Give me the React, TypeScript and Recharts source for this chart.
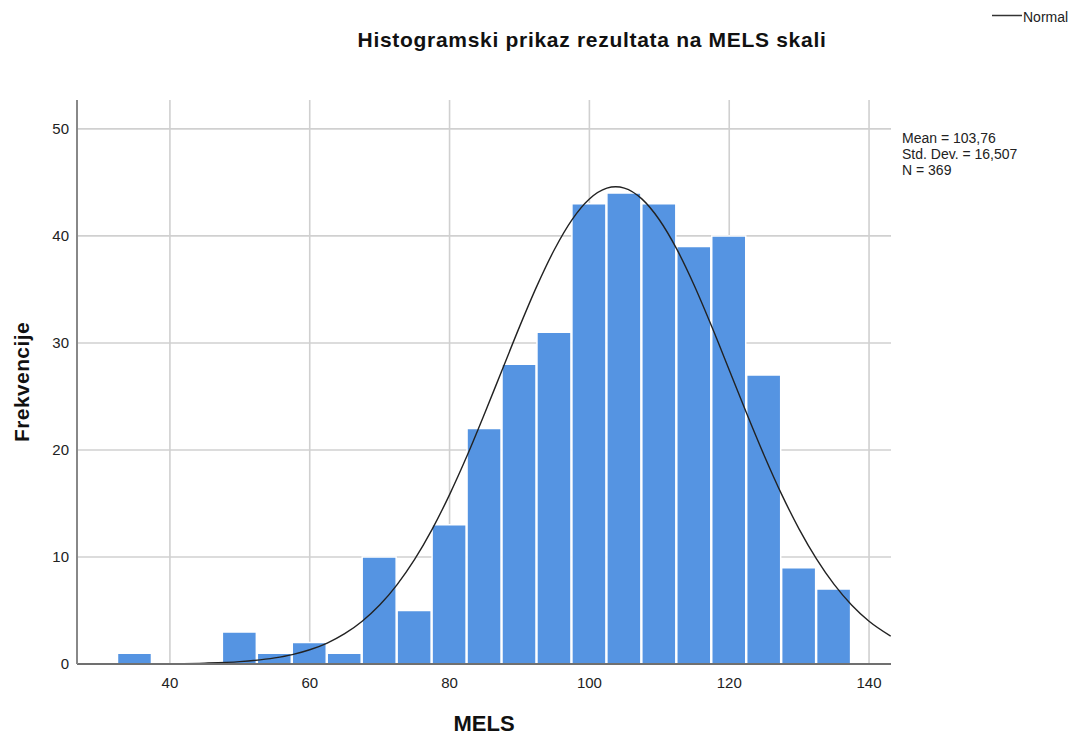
import React from 'react';
import { ComposedChart, Bar, Line, XAxis, YAxis, CartesianGrid } from 'recharts';

// Histogram bins (bin centre on MELS scale) and frequencies
const binCenters = [35, 50, 55, 60, 65, 70, 75, 80, 85, 90, 95, 100, 105, 110, 115, 120, 125, 130, 135];
const binCounts = [1, 3, 1, 2, 1, 10, 5, 13, 22, 28, 31, 43, 44, 43, 39, 40, 27, 9, 7];

// Normal curve
const curveX = [27, 30, 35, 40, 45, 50, 55, 57.5, 60, 62.5, 65, 67.5, 70, 72.5, 75, 77.5, 80, 82.5, 85, 87.5, 90, 92.5, 95, 97.5, 100, 102.5, 103.76, 105, 107.5, 110, 112.5, 115, 117.5, 120, 122.5, 125, 127.5, 130, 132.5, 135, 137.5, 140, 143.1];
const curveY = [0.001, 0.002, 0.008, 0.026, 0.079, 0.22, 0.57, 0.88, 1.33, 1.96, 2.83, 4.0, 5.51, 7.42, 9.77, 12.58, 15.83, 19.45, 23.38, 27.45, 31.5, 35.33, 38.73, 41.5, 43.45, 44.46, 44.59, 44.47, 43.46, 41.51, 38.76, 35.37, 31.53, 27.48, 23.41, 19.49, 15.85, 12.61, 9.8, 7.44, 5.52, 4.0, 2.61];

const xTicks = [40, 60, 80, 100, 120, 140];
const yTicks = [0, 10, 20, 30, 40, 50];
const xDomain = [26.71, 143.14];
const yDomain = [0, 52.7];

const title = 'Histogramski prikaz rezultata na MELS skali';
const xLabel = 'MELS';
const yLabel = 'Frekvencije';
const legendLabel = 'Normal';
const statsLines = ['Mean = 103,76', 'Std. Dev. = 16,507', 'N = 369'];

const barData = binCenters.map((x, i) => ({ x, count: binCounts[i] }));
const curveData = curveX.map((x, i) => ({ x, normal: curveY[i] }));

const FONT = '"Liberation Sans", Arial, Helvetica, sans-serif';

export default function App() {
  return (
    <div style={{ position: 'absolute', left: 0, top: 0, width: 1074, height: 735, background: '#fff', fontFamily: FONT }}>
      <ComposedChart
        width={1074}
        height={735}
        data={barData}
        margin={{ top: 100, right: 183, bottom: 5, left: 7 }}
      >
        <CartesianGrid stroke="#d0d0d0" strokeWidth={1.6} xAxisId={0} syncWithTicks />
        <XAxis
          xAxisId={0}
          dataKey="x"
          type="number"
          domain={xDomain}
          allowDataOverflow
          ticks={xTicks}
          height={66}
          tickLine={false}
          tickMargin={7}
          axisLine={{ stroke: '#707070', strokeWidth: 2 }}
          tick={{ fontSize: 15, fill: '#222', fontFamily: FONT }}
          label={{ value: xLabel, position: 'insideBottom', offset: -1, style: { fontSize: 22, fontWeight: 'bold', fill: '#111', fontFamily: FONT } }}
        />
        <XAxis xAxisId="curve" dataKey="x" type="number" domain={xDomain} allowDataOverflow hide />
        <YAxis
          type="number"
          domain={yDomain}
          allowDataOverflow
          ticks={yTicks}
          width={70}
          tickLine={false}
          tickMargin={2}
          axisLine={{ stroke: '#888', strokeWidth: 2 }}
          tick={{ fontSize: 15, fill: '#222', fontFamily: FONT }}
          label={{ value: yLabel, angle: -90, position: 'insideLeft', offset: 15, style: { textAnchor: 'middle', fontSize: 21, fontWeight: 'bold', fill: '#111', fontFamily: FONT, letterSpacing: 0.4 } }}
        />
        <Bar
          xAxisId={0}
          dataKey="count"
          barSize={34}
          fill="#5594E2"
          stroke="#ffffff"
          strokeWidth={1.5}
          isAnimationActive={false}
        />
        <Line
          xAxisId="curve"
          data={curveData}
          dataKey="normal"
          type="monotone"
          stroke="#222"
          strokeWidth={1.4}
          dot={false}
          activeDot={false}
          isAnimationActive={false}
        />
      </ComposedChart>
      <svg width={1074} height={735} style={{ position: 'absolute', left: 0, top: 0, pointerEvents: 'none' }}>
        <text x={592} y={47} textAnchor="middle" fontFamily={FONT} fontSize={21} fontWeight="bold" letterSpacing={0.7} fill="#111">
          {title}
        </text>
        <line x1={992} y1={15.5} x2={1022} y2={15.5} stroke="#333" strokeWidth={1.5} />
        <text x={1023} y={21.5} fontFamily={FONT} fontSize={14} fill="#222">{legendLabel}</text>
        {statsLines.map((s, i) => (
          <text key={s} x={902} y={143 + i * 16} fontFamily={FONT} fontSize={14} fill="#222">{s}</text>
        ))}
      </svg>
    </div>
  );
}
